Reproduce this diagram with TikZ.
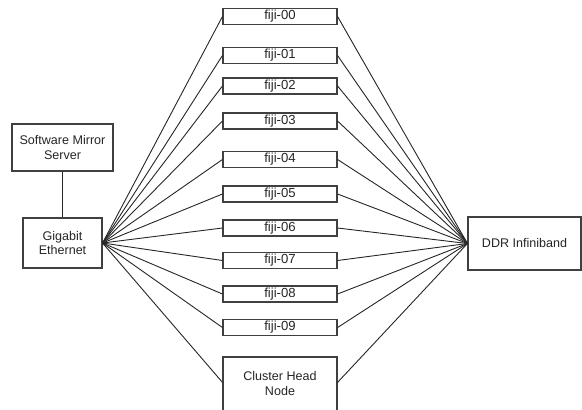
\documentclass[tikz,border=0pt]{standalone}
\usepackage{fontspec}
\setmainfont{Liberation Sans}
\begin{document}
\begin{tikzpicture}[x=1bp,y=-1bp,
  box/.style={draw=black!75, line width=1.1bp, fill=white, inner sep=0pt, align=center,
    font=\fontsize{12.6}{15}\selectfont, text=black!85},
  fiji/.style={box, minimum width=114bp, minimum height=16bp, font=\fontsize{13.2}{15}\selectfont},
  link/.style={draw=black!85, line width=0.9bp}]
\useasboundingbox (0,0) rectangle (582,409);
\node[box, minimum width=101bp, minimum height=47bp] (sms) at (62.5,147.5) {Software Mirror\\Server};
\node[box, minimum width=79bp, minimum height=50bp] (ge) at (62.5,243) {Gigabit\\Ethernet};
\node[box, minimum width=113bp, minimum height=53bp] (ddr) at (524.5,243.5) {DDR Infiniband};
\node[fiji] (f0) at (280,16.5) {fiji-00};
\node[fiji] (f1) at (280,55.5) {fiji-01};
\node[fiji] (f2) at (280,86) {fiji-02};
\node[fiji] (f3) at (280,121) {fiji-03};
\node[fiji] (f4) at (280,159.5) {fiji-04};
\node[fiji] (f5) at (280,194) {fiji-05};
\node[fiji] (f6) at (280,228) {fiji-06};
\node[fiji] (f7) at (280,260.5) {fiji-07};
\node[fiji] (f8) at (280,294) {fiji-08};
\node[fiji] (f9) at (280,327.5) {fiji-09};
\node[box, minimum width=114bp, minimum height=56bp, text depth=4pt] (ch) at (280,385) {Cluster Head\\Node};
\coordinate (chw) at (223,383);
\coordinate (che) at (337,383);
\draw[link] (sms.south) -- (ge.north);
\foreach \n in {f0,f1,f2,f3,f4,f5,f6,f7,f8,f9}{
  \draw[link] (ge.east) -- (\n.west);
  \draw[link] (\n.east) -- (ddr.west);
}
\draw[link] (ge.east) -- (chw);
\draw[link] (che) -- (ddr.west);
\end{tikzpicture}
\end{document}
